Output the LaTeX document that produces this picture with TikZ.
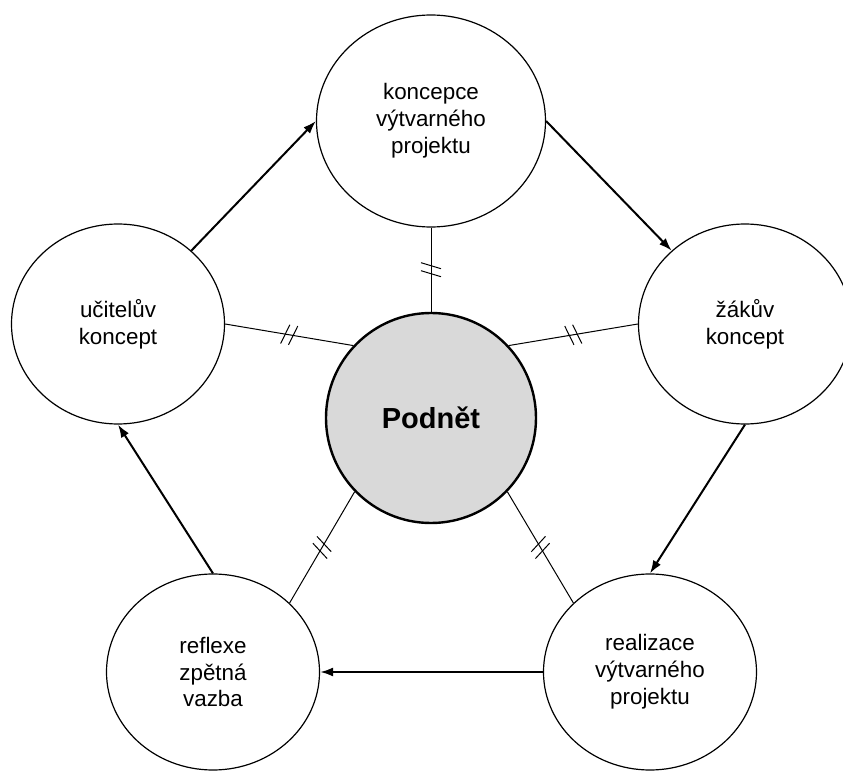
\documentclass[tikz,border=0pt]{standalone}
\usepackage{fontspec}
\setmainfont{Liberation Sans}
\usetikzlibrary{shapes.geometric,arrows.meta,decorations.markings}

\tikzset{
	bubble/.style={draw, ellipse, line width=0.6pt, inner sep=0pt, align=center,
		minimum width=106.5pt, minimum height=100pt, font=\fontsize{11.2pt}{13.4pt}\selectfont},
	flow/.style={line width=1pt, -{Latex[length=6.5pt,width=4.5pt]}},
	link/.style={line width=0.5pt, postaction={decorate}, decoration={markings,
		mark=at position 0.5 with {\draw[line width=0.5pt, yscale=#1] (-3.5pt,-5pt) -- (-0.5pt,5pt) (0.5pt,-5pt) -- (3.5pt,5pt);}}},
	link/.default=1
}

\begin{document}
\begin{tikzpicture}[x=0.5pt, y=-0.5pt]
			\useasboundingbox (0,0) rectangle (843,771);
			\node[draw, circle, line width=1.2pt, fill=gray!30, minimum size=105pt, font=\fontsize{14.5pt}{17pt}\selectfont\bfseries] (podnet) at (431, 418) {Podnět};
			\node[bubble, minimum width=114.5pt, minimum height=106pt] (koncepce) at (431, 121) {koncepce\\výtvarného\\projektu};
			\node[bubble] (ucitel) at (118, 324) {učitelův\\koncept};
			\node[bubble] (zak) at (745, 324) {žákův\\koncept};
			\node[bubble, minimum height=98pt] (reflexe) at (213, 672) {reflexe\\zpětná\\vazba};
			\node[bubble, minimum height=98pt] (realizace) at (650, 672) {realizace\\výtvarného\\projektu};
			\draw[flow] (ucitel.45) -- (koncepce.west);
			\draw[flow] (koncepce.east) -- (zak.135);
			\draw[flow] (zak.south) -- (realizace.north);
			\draw[flow] (realizace.west) -- (reflexe.east);
			\draw[flow] (reflexe.north) -- (ucitel.south);
			\draw[link] (koncepce.south) -- (podnet.north);
			\draw[link] (ucitel.east) -- (podnet.137);
			\draw[link=-1] (zak.west) -- (podnet.43);
			\draw[link] (reflexe.42) -- (podnet.224);
			\draw[link=-1] (realizace.138) -- (podnet.316);
		\end{tikzpicture}
\end{document}
